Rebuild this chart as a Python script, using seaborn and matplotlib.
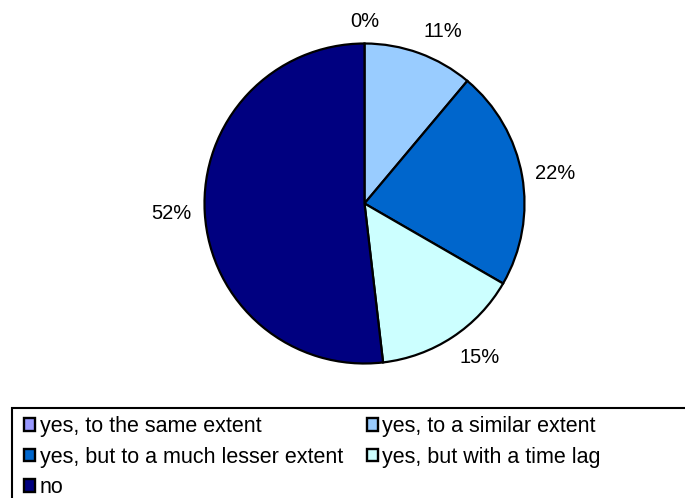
import numpy as np
import matplotlib
matplotlib.use("Agg")
import matplotlib.pyplot as plt
from matplotlib.patches import Patch, Rectangle
import seaborn as sns

sns.set_theme(style="white")
plt.rcParams["font.family"] = ["Liberation Sans", "DejaVu Sans"]
plt.rcParams["text.color"] = "black"

# Survey answers (number of respondents per answer)
categories = [
    "yes, to the same extent",
    "yes, to a similar extent",
    "yes, but to a much lesser extent",
    "yes, but with a time lag",
    "no",
]
counts = [0, 3, 6, 4, 14]
colors = ["#9999FF", "#99CCFF", "#0066CC", "#CCFFFF", "#000080"]

W, H = 685, 498
fig = plt.figure(figsize=(W / 100, H / 100), dpi=100)
fig.patch.set_facecolor("white")

# pie placed by pixel geometry: centre and radius
cx, cy, r = 364.5, 203.5, 160
ax = fig.add_axes([(cx - r) / W, (H - cy - r) / H, 2 * r / W, 2 * r / H])
wedges, _ = ax.pie(
    counts,
    colors=colors,
    startangle=90,
    counterclock=False,
    radius=1,
    wedgeprops=dict(edgecolor="black", linewidth=1.6),
)
ax.set_xlim(-1, 1)
ax.set_ylim(-1, 1)
ax.set_aspect("equal")
ax.axis("off")

total = sum(counts)
for w, c in zip(wedges, counts):
    theta = np.deg2rad((w.theta1 + w.theta2) / 2)
    x, y = np.cos(theta), np.sin(theta)
    d = 1.08
    ha = "left" if x > 0.15 else ("right" if x < -0.15 else "center")
    va = "bottom" if y > 0.3 else ("top" if y < -0.3 else "center")
    ax.text(d * x, d * y, f"{round(100 * c / total)}%", ha=ha, va=va,
            fontsize=14.5, color="black", clip_on=False)

# legend frame (open to the right and bottom edges of the figure)
frame = Rectangle((12 / W, -0.05), 1.1, (H - 408) / H + 0.05,
                  transform=fig.transFigure, fill=False,
                  edgecolor="black", linewidth=1.5)
fig.patches.append(frame)

handles = [Patch(facecolor=col, edgecolor="black", linewidth=1.7) for col in colors]
order = [0, 2, 4, 1, 3]
fig.legend(
    [handles[i] for i in order],
    [categories[i] for i in order],
    ncol=2,
    loc="upper left",
    bbox_to_anchor=(24 / W, (H - 416) / H),
    frameon=False,
    borderpad=0,
    borderaxespad=0,
    handlelength=0.53,
    handleheight=0.53,
    handletextpad=0.2,
    labelspacing=0.45,
    columnspacing=1.1,
    fontsize=15.5,
    labelcolor="black",
)

fig.savefig("out.png", dpi=100)
